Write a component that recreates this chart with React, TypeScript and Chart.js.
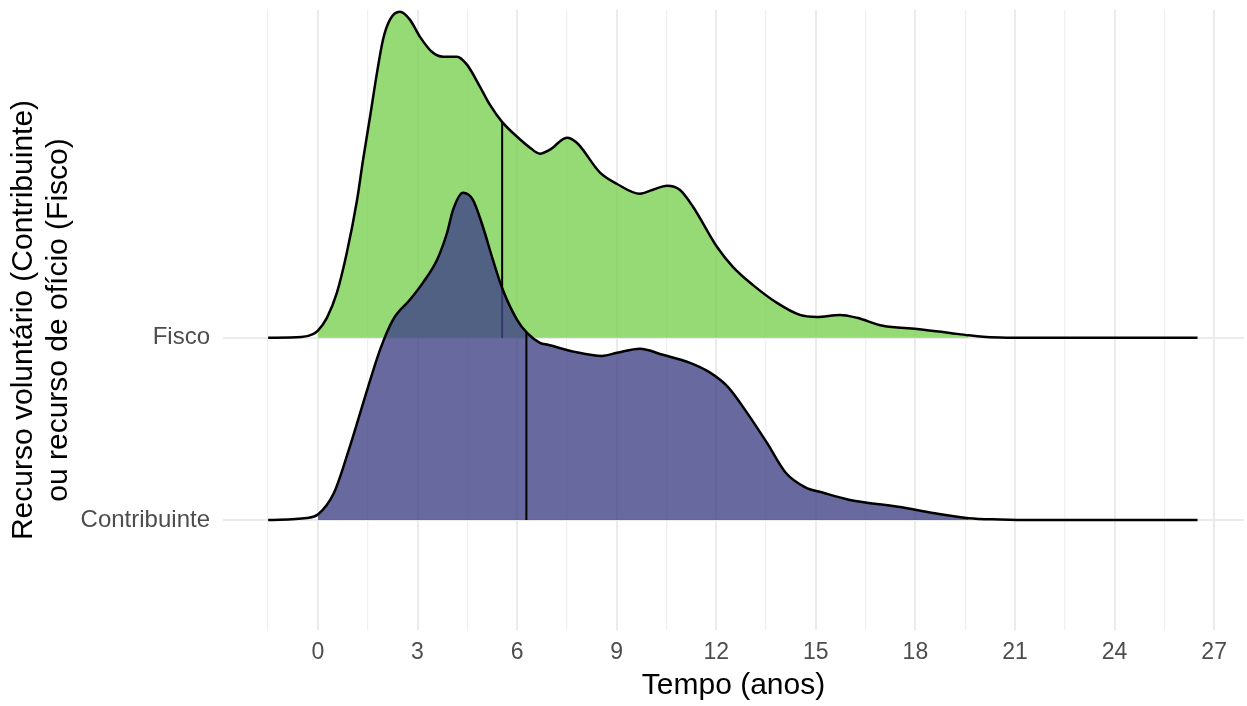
import React, { useEffect, useRef } from 'react';
import { Chart, registerables } from 'chart.js';

Chart.register(...registerables);

// Categories (ridge rows, bottom to top)
const categories = ['Contribuinte', 'Fisco'];

// X axis ticks (gridlines every 1.5 years, labels every 3)
const xGridValues = [-1.5, 0, 1.5, 3, 4.5, 6, 7.5, 9, 10.5, 12, 13.5, 15, 16.5, 18, 19.5, 21, 22.5, 24, 25.5, 27];
const xLabelValues = [0, 3, 6, 9, 12, 15, 18, 21, 24, 27];

// Observed data range (filled part of the ridges)
const fillRange = [0, 19.6];

// Fisco density (scaled ridge height)
const fiscoX = [-1.5, -0.5, -0.15, 0, 0.27, 0.57, 0.87, 1.18, 1.36, 1.57, 1.78, 1.96, 2.17, 2.47, 2.77, 3.07, 3.43, 3.77, 4.19, 4.49, 4.88, 5.18, 5.54, 6.0, 6.39, 6.69, 6.99, 7.5, 7.8, 8.5, 9.0, 9.7, 10.09, 10.52, 10.9, 11.3, 12.02, 12.5, 13.1, 13.83, 14.52, 15.03, 15.73, 16.24, 17.02, 18.05, 19.04, 19.6, 20.04, 20.55, 21.5, 26.5];
const fiscoH = [0, 0.004, 0.02, 0.04, 0.11, 0.247, 0.467, 0.758, 0.978, 1.214, 1.456, 1.637, 1.747, 1.79, 1.747, 1.654, 1.571, 1.544, 1.544, 1.5, 1.379, 1.28, 1.187, 1.104, 1.044, 1.011, 1.033, 1.099, 1.071, 0.907, 0.846, 0.791, 0.813, 0.835, 0.813, 0.72, 0.5, 0.39, 0.291, 0.192, 0.126, 0.115, 0.126, 0.11, 0.066, 0.049, 0.027, 0.014, 0.006, 0.002, 0, 0];

// Contribuinte density (scaled ridge height)
const contribX = [-1.5, -0.33, 0, 0.48, 0.93, 1.42, 1.87, 2.26, 2.77, 3.16, 3.59, 3.89, 4.07, 4.37, 4.67, 4.97, 5.27, 5.57, 6.0, 6.3, 6.69, 6.93, 7.74, 8.56, 9.01, 9.7, 10.39, 11.21, 11.78, 12.35, 12.93, 13.53, 14.1, 14.67, 15.25, 16.03, 17.54, 18.53, 19.6, 20.55, 21.5, 26.5];
const contribH = [0, 0.011, 0.03, 0.148, 0.385, 0.676, 0.934, 1.099, 1.209, 1.302, 1.429, 1.577, 1.703, 1.797, 1.758, 1.61, 1.429, 1.264, 1.099, 1.027, 0.973, 0.962, 0.923, 0.901, 0.918, 0.94, 0.907, 0.863, 0.813, 0.731, 0.588, 0.423, 0.258, 0.181, 0.148, 0.11, 0.071, 0.038, 0.01, 0.003, 0, 0];

// Medians (x) and ridge height at the median
const medians = [6.28, 5.55]; // Contribuinte, Fisco
const medianHeights = [1.03, 1.187];

const FONT = 'Liberation Sans, Arial, Helvetica, sans-serif';

export default function App() {
  const ref = useRef<HTMLCanvasElement>(null);

  useEffect(() => {
    const canvas = ref.current;
    if (!canvas) return;

    const pts = (xs: number[], hs: number[], base: number) => xs.map((x, i) => ({ x, y: base + hs[i] }));
    const fillPts = (xs: number[], hs: number[], base: number) =>
      pts(xs, hs, base).filter((p) => p.x >= fillRange[0] && p.x <= fillRange[1]);

    const fBase = 2;
    const cBase = 1;

    const lineCommon = {
      pointRadius: 0,
      cubicInterpolationMode: 'monotone' as const,
    };

    const zeroPad = (s: any) => {
      s.paddingTop = 0;
      s.paddingBottom = 0;
      s.paddingLeft = 0;
      s.paddingRight = 0;
    };

    const chart = new Chart(canvas, {
      type: 'line',
      data: {
        datasets: [
          {
            label: 'Contribuinte mediana',
            data: [{ x: medians[0], y: cBase }, { x: medians[0], y: cBase + medianHeights[0] }],
            borderColor: '#000000',
            borderWidth: 2,
            pointRadius: 0,
            fill: false,
            order: 1,
          },
          {
            label: 'Contribuinte',
            data: pts(contribX, contribH, cBase),
            borderColor: '#000000',
            borderWidth: 2.5,
            fill: false,
            order: 2,
            ...lineCommon,
          },
          {
            label: 'Contribuinte fill',
            data: fillPts(contribX, contribH, cBase),
            borderWidth: 0,
            borderColor: 'rgba(0,0,0,0)',
            backgroundColor: 'rgba(65,68,135,0.8)',
            fill: { value: cBase },
            order: 3,
            ...lineCommon,
          },
          {
            label: 'Fisco mediana',
            data: [{ x: medians[1], y: fBase }, { x: medians[1], y: fBase + medianHeights[1] }],
            borderColor: '#000000',
            borderWidth: 2,
            pointRadius: 0,
            fill: false,
            order: 4,
          },
          {
            label: 'Fisco',
            data: pts(fiscoX, fiscoH, fBase),
            borderColor: '#000000',
            borderWidth: 2.5,
            fill: false,
            order: 5,
            ...lineCommon,
          },
          {
            label: 'Fisco fill',
            data: fillPts(fiscoX, fiscoH, fBase),
            borderWidth: 0,
            borderColor: 'rgba(0,0,0,0)',
            backgroundColor: 'rgba(122,209,81,0.8)',
            fill: { value: fBase },
            order: 6,
            ...lineCommon,
          },
        ] as any,
      },
      options: {
        responsive: false,
        animation: false,
        layout: { padding: { left: 0, right: 3, top: 10, bottom: 0 } },
        plugins: {
          legend: { display: false },
          tooltip: { enabled: false },
        },
        scales: {
          x: {
            type: 'linear',
            min: -2.86,
            max: 27.9,
            afterBuildTicks: (s: any) => {
              s.ticks = xGridValues.map((v) => ({ value: v }));
            },
            afterFit: (s: any) => {
              s.height = 76;
              zeroPad(s);
            },
            grid: {
              drawTicks: false,
              color: (c: any) => (c.tick && xLabelValues.includes(c.tick.value) ? '#ebebeb' : '#f0f0f0'),
              lineWidth: (c: any) => (c.tick && xLabelValues.includes(c.tick.value) ? 2 : 1.3),
            },
            border: { display: false },
            ticks: {
              autoSkip: false,
              maxRotation: 0,
              padding: 9,
              color: '#4d4d4d',
              font: { family: FONT, size: 23 },
              callback: (v: any) => (xLabelValues.includes(Number(v)) ? String(v) : ''),
            },
            title: {
              display: true,
              text: 'Tempo (anos)',
              color: '#000000',
              font: { family: FONT, size: 30 },
              padding: { top: 0, bottom: 2 },
            },
          },
          y: {
            type: 'linear',
            min: 0.396,
            max: 3.8,
            afterBuildTicks: (s: any) => {
              s.ticks = categories.map((_, i) => ({ value: i + 1 }));
            },
            afterFit: (s: any) => {
              s.width = 223;
              zeroPad(s);
            },
            grid: {
              drawTicks: false,
              color: '#ebebeb',
              lineWidth: 2,
            },
            border: { display: false },
            ticks: {
              autoSkip: false,
              padding: 13,
              color: '#4d4d4d',
              font: { family: FONT, size: 24 },
              callback: (v: any) => categories[Number(v) - 1] ?? '',
            },
            title: {
              display: true,
              text: ['Recurso voluntário (Contribuinte)', 'ou recurso de ofício (Fisco)'],
              color: '#000000',
              font: { family: FONT, size: 30, lineHeight: 1.17 },
              padding: { top: 6, bottom: 0 },
            },
          },
        },
      },
    });

    return () => chart.destroy();
  }, []);

  return (
    <div style={{ position: 'absolute', left: 0, top: 0, width: 1247, height: 706, background: '#ffffff' }}>
      <canvas ref={ref} width={1247} height={706} style={{ display: 'block' }} />
    </div>
  );
}
